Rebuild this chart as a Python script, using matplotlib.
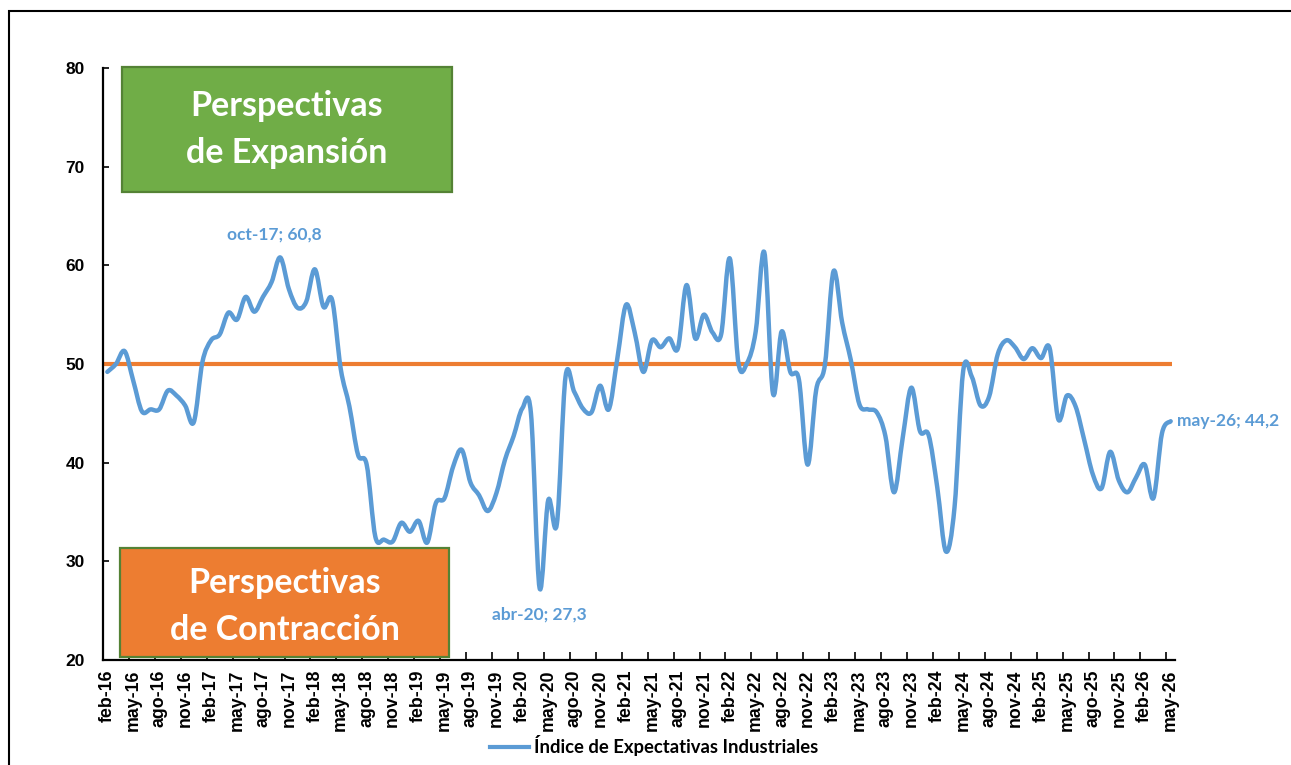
import matplotlib
matplotlib.use("Agg")
import matplotlib.pyplot as plt
from matplotlib.path import Path
from matplotlib.patches import PathPatch, Rectangle
from matplotlib.lines import Line2D

# ---------------- data ----------------
values = [
    49.2, 50.0, 51.3, 48.3, 45.2, 45.4, 45.4, 47.3, 46.8, 45.8, 44.1, 50.2,
    52.4, 53.0, 55.2, 54.5, 56.8, 55.3, 56.8, 58.3, 60.8, 57.6, 55.7, 56.3,
    59.6, 55.8, 56.5, 49.5, 45.7, 40.8, 39.8, 32.5, 32.2, 32.0, 33.9, 33.0,
    34.1, 31.9, 35.9, 36.4, 39.6, 41.3, 38.0, 36.7, 35.1, 36.9, 40.3, 42.7,
    45.5, 45.0, 27.3, 36.2, 33.8, 48.7, 47.2, 45.5, 45.1, 47.8, 45.4, 50.6,
    56.0, 53.2, 49.2, 52.4, 51.7, 52.6, 51.6, 58.0, 52.6, 55.0, 53.2, 53.0,
    60.7, 50.1, 50.1, 53.3, 61.3, 47.0, 53.3, 49.2, 48.4, 39.8, 47.4, 49.9,
    59.4, 54.2, 50.4, 45.9, 45.4, 45.1, 42.7, 37.0, 42.5, 47.6, 43.2, 42.8,
    37.5, 31.0, 35.5, 49.3, 48.7, 45.8, 46.7, 51.0, 52.4, 51.7, 50.5, 51.6,
    50.6, 51.6, 44.4, 46.8, 45.7, 42.3, 38.8, 37.4, 41.1, 38.2, 37.0, 38.5,
    39.8, 36.4, 43.0, 44.2,
]
tick_labels = [
    "feb-16", "may-16", "ago-16", "nov-16", "feb-17", "may-17", "ago-17", "nov-17",
    "feb-18", "may-18", "ago-18", "nov-18", "feb-19", "may-19", "ago-19", "nov-19",
    "feb-20", "may-20", "ago-20", "nov-20", "feb-21", "may-21", "ago-21", "nov-21",
    "feb-22", "may-22", "ago-22", "nov-22", "feb-23", "may-23", "ago-23", "nov-23",
    "feb-24", "may-24", "ago-24", "nov-24", "feb-25", "may-25", "ago-25", "nov-25",
    "feb-26", "may-26",
]
tick_step = 3
threshold = 50
series_name = "Índice de Expectativas Industriales"
annotations = [(20, "oct-17; 60,8"), (50, "abr-20; 27,3"), (123, "may-26; 44,2")]
box_top = "Perspectivas\nde Expansión"
box_bottom = "Perspectivas\nde Contracción"

BLUE = "#5B9BD5"
ORANGE = "#ED7D31"
GREEN = "#70AD47"
DKGREEN = "#548235"

W, H = 1291, 765
fig = plt.figure(figsize=(W / 100, H / 100), dpi=100)
ax = fig.add_axes([103 / W, 105 / H, 1072 / W, 592 / H])

n = len(values)
xs = list(range(n))

# smoothed line (Excel-style bezier through every point)
verts = [(xs[0], values[0])]
codes = [Path.MOVETO]
for i in range(n - 1):
    p0 = (xs[max(i - 1, 0)], values[max(i - 1, 0)])
    p1 = (xs[i], values[i])
    p2 = (xs[i + 1], values[i + 1])
    p3 = (xs[min(i + 2, n - 1)], values[min(i + 2, n - 1)])
    c1 = (p1[0] + (p2[0] - p0[0]) / 6, p1[1] + (p2[1] - p0[1]) / 6)
    c2 = (p2[0] - (p3[0] - p1[0]) / 6, p2[1] - (p3[1] - p1[1]) / 6)
    verts += [c1, c2, p2]
    codes += [Path.CURVE4] * 3
ax.add_patch(PathPatch(Path(verts, codes), facecolor="none", edgecolor=BLUE,
                       lw=3.2, capstyle="round", joinstyle="round", zorder=3))

# threshold line
ax.plot([xs[0] - 0.5, xs[-1] + 0.1], [threshold, threshold], color=ORANGE,
        lw=3.0, solid_capstyle="butt", zorder=2)

ax.set_xlim(-0.5, n - 0.5)
ax.set_ylim(20, 80)

# axes styling
for s in ["top", "right"]:
    ax.spines[s].set_visible(False)
for s in ["left", "bottom"]:
    ax.spines[s].set_linewidth(1.6)
    ax.spines[s].set_color("black")

ax.set_yticks([20, 30, 40, 50, 60, 70, 80])
ax.tick_params(axis="y", direction="in", length=4, width=1.2, pad=13)
for lab in ax.get_yticklabels():
    lab.set_family(["Liberation Sans Narrow", "Liberation Sans"])
    lab.set_fontweight("bold")
    lab.set_fontsize(12.5)

major = [k - 0.5 for k in range(0, n + 1, tick_step)]
ax.set_xticks(major)
ax.set_xticklabels([])
ax.tick_params(axis="x", which="major", direction="in", length=6, width=1.2)
minor = xs[::tick_step]
ax.set_xticks(minor, minor=True)
ax.set_xticklabels(tick_labels, minor=True, rotation=90,
                   family=["Liberation Sans"], fontweight="bold", fontsize=12.8)
ax.tick_params(axis="x", which="minor", length=0, pad=7)

# annotations (offsets in pixels)
ann_font = dict(family=["Lato", "DejaVu Sans"], fontweight="bold", fontsize=12.5, color=BLUE)
offsets = {20: ((-6, 23), "center", "center"),
           50: ((0, -27), "center", "center"),
           123: ((6, 0), "left", "center")}
for idx, txt in annotations:
    off, ha, va = offsets[idx]
    ax.annotate(txt, (xs[idx], values[idx]), xytext=off, textcoords="offset pixels",
                ha=ha, va=va, annotation_clip=False, **ann_font)

# boxes
def box(x0, y0, x1, y1, face, text, dy=0.0):
    ax.add_patch(Rectangle((x0, y0), x1 - x0, y1 - y0, transform=ax.transAxes,
                           facecolor=face, edgecolor=DKGREEN, lw=1.6,
                           clip_on=False, zorder=4))
    ax.text((x0 + x1) / 2, (y0 + y1) / 2 + dy, text, transform=ax.transAxes,
            ha="center", va="center", color="white", fontsize=24.5,
            family=["Lato", "DejaVu Sans"], fontweight="bold",
            linespacing=1.55, zorder=5)

box(0.0174, 0.791, 0.3253, 1.001, GREEN, box_top)
box(0.0159, 0.0056, 0.3228, 0.189, ORANGE, box_bottom, dy=-0.007)

# legend
handle = Line2D([], [], color=BLUE, lw=3)
fig.legend(handles=[handle], labels=[series_name], loc="center",
           bbox_to_anchor=(654 / W, 1 - 746 / H), frameon=False,
           handlelength=2.1, handletextpad=0.3,
           prop=dict(family=["Lato", "DejaVu Sans"], weight="bold", size=13.3))

# outer frame (left and top edges visible)
fig.add_artist(Rectangle((8.5 / W, -0.5), 2.0, 1.5 - 11 / H, transform=fig.transFigure,
                         facecolor="none", edgecolor="black", lw=1.5, clip_on=False))

fig.savefig("out.png", dpi=100)
